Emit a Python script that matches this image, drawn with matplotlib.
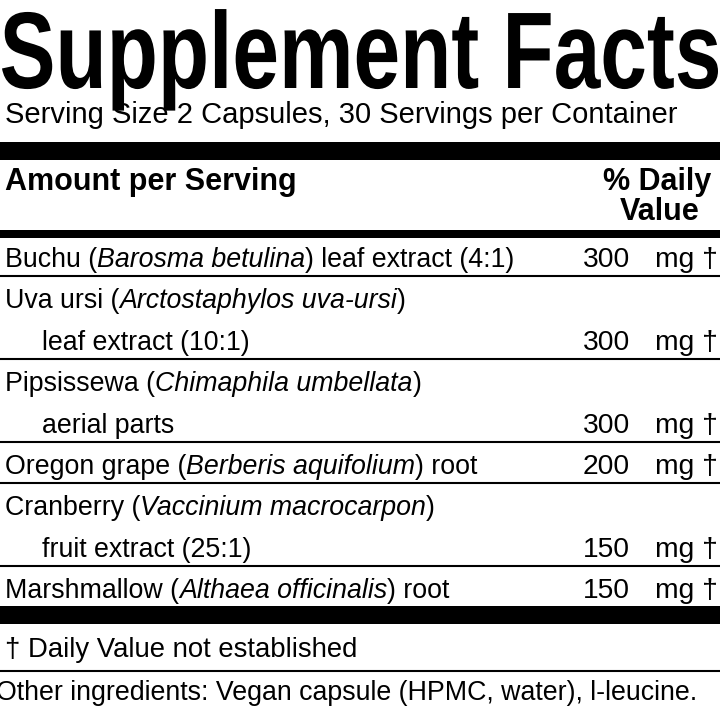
import matplotlib.pyplot as plt
from matplotlib.textpath import TextPath
from matplotlib.patches import PathPatch
from matplotlib.font_manager import FontProperties
from matplotlib.transforms import Affine2D

FONT = "Liberation Sans"

# ingredient rows: (prefix, latin name, suffix, second line)
prefixes = ["Buchu (", "Uva ursi (", "Pipsissewa (", "Oregon grape (", "Cranberry (", "Marshmallow ("]
latins = ["Barosma betulina", "Arctostaphylos uva-ursi", "Chimaphila umbellata",
          "Berberis aquifolium", "Vaccinium macrocarpon", "Althaea officinalis"]
suffixes = [") leaf extract (4:1)", ")", ")", ") root", ")", ") root"]
second_lines = [None, "leaf extract (10:1)", "aerial parts", None, "fruit extract (25:1)", None]
amounts = [300, 300, 300, 200, 150, 150]

title = "Supplement Facts"
serving = "Serving Size 2 Capsules, 30 Servings per Container"
footnote = "\u2020 Daily Value not established"
other = "Other ingredients: Vegan capsule (HPMC, water), l-leucine."

fig = plt.figure(figsize=(7.2, 7.2), dpi=100)
ax = fig.add_axes([0, 0, 1, 1])
ax.set_xlim(0, 720)
ax.set_ylim(720, 0)
ax.axis("off")
renderer = fig.canvas.get_renderer()

FS = 19.3


def rich(x, y, parts):
    for txt, style in parts:
        t = ax.text(x, y, txt, fontsize=FS, family=FONT, style=style, va="baseline")
        x += t.get_window_extent(renderer).width


def bar(y0, y1):
    ax.fill_between([0, 720], y0, y1, color="black", lw=0)


# title: wide bold letters, stretched to the label width
tp = TextPath((0, 0), title, size=100, prop=FontProperties(family=FONT, weight="bold"))
ext = tp.get_extents()
cap = 78.0 / 72.0  # cap height ~78 px
sx = 716.0 / ext.width
sy = 78.0 / (100 * 0.716)
tr = Affine2D().translate(-ext.x0, 0).scale(sx, -sy).translate(2, 88)
ax.add_patch(PathPatch(tr.transform_path(tp), color="black", lw=0))

ax.text(5, 123, serving, fontsize=21, family=FONT, va="baseline")
bar(142, 160)
ax.text(5, 190, "Amount per Serving", fontsize=22, family=FONT, weight="bold", va="baseline")
ax.text(603, 190, "% Daily", fontsize=22, family=FONT, weight="bold", va="baseline")
ax.text(620, 220, "Value", fontsize=22, family=FONT, weight="bold", va="baseline")
bar(230, 238)

y = 267
for i in range(len(prefixes)):
    rich(5, y, [(prefixes[i], "normal"), (latins[i], "italic"), (suffixes[i], "normal")])
    if second_lines[i]:
        y += 42
        ax.text(42, y, second_lines[i], fontsize=FS, family=FONT, va="baseline")
    ax.text(583, y, str(amounts[i]), fontsize=FS + 1, family=FONT, va="baseline")
    ax.text(655, y, "mg \u2020", fontsize=FS + 1, family=FONT, va="baseline")
    if i < len(prefixes) - 1:
        ax.plot([0, 720], [y + 9, y + 9], color="black", lw=1.5)
    y += 41

bar(606, 624)
ax.text(5, 657, footnote, fontsize=FS + 0.5, family=FONT, va="baseline")
ax.plot([0, 720], [671, 671], color="black", lw=1.5)
ax.text(-4, 700, other, fontsize=FS, family=FONT, va="baseline")

fig.savefig("out.png", dpi=100)
